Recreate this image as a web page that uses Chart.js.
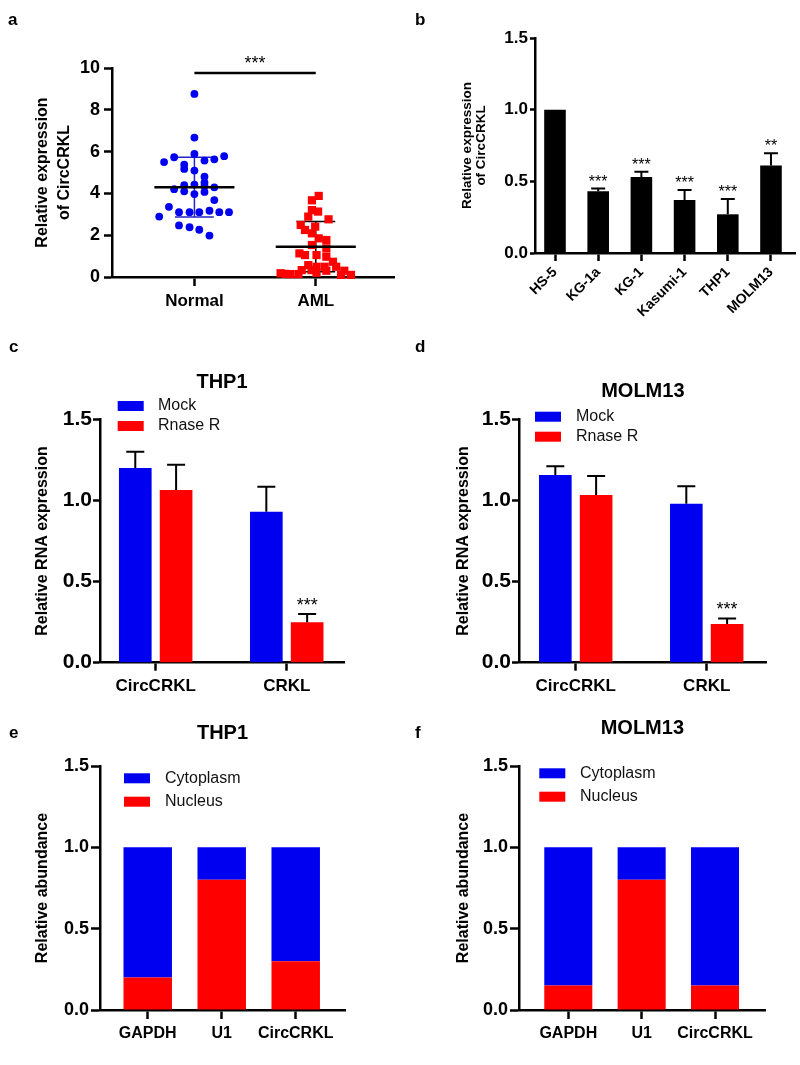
<!DOCTYPE html>
<html>
<head>
<meta charset="utf-8">
<title>CircCRKL figure</title>
<script src="https://cdn.jsdelivr.net/npm/chart.js@4.4.1/dist/chart.umd.min.js"></script>
<style>
  body { margin: 0; background: #fff; }
  #page { position: relative; width: 800px; height: 1065px; overflow: hidden; background: #fff; }
  #page canvas { position: absolute; }
  .tag { position: absolute; font: bold 17px/17px "Liberation Sans", Arial, sans-serif; color: #000; }
</style>
</head>
<body>
<div id="page">
  <canvas id="chartA" width="400" height="330" style="left:0;top:0"></canvas>
  <canvas id="chartB" width="400" height="330" style="left:400px;top:0"></canvas>
  <canvas id="chartC" width="400" height="370" style="left:0;top:330px"></canvas>
  <canvas id="chartD" width="400" height="370" style="left:400px;top:330px"></canvas>
  <canvas id="chartE" width="400" height="365" style="left:0;top:700px"></canvas>
  <canvas id="chartF" width="400" height="365" style="left:400px;top:700px"></canvas>
  <div class="tag" style="left:8px;top:11px">a</div>
  <div class="tag" style="left:415px;top:11px">b</div>
  <div class="tag" style="left:9px;top:338px">c</div>
  <div class="tag" style="left:415px;top:338px">d</div>
  <div class="tag" style="left:9px;top:724px">e</div>
  <div class="tag" style="left:415px;top:724px">f</div>
</div>
<script>
const FONT = '"Liberation Sans", Arial, sans-serif';
const BLUE = '#0000f0';
const RED = '#ff0000';

// a: circCRKL in Normal vs AML samples (x spread = jitter)
const groups = ['Normal', 'AML'];
const normalSpread = [0, 0, -0.25, -0.167, 0, 0.083, 0.164, 0.245, -0.084, -0.084, 0, 0.083, 0.083,
  -0.084, 0, 0.083, -0.167, 0.164, -0.084, 0, 0.083, 0.164, -0.21, -0.29, -0.127, -0.04, 0.04,
  0.124, 0.205, 0.285, -0.127, -0.04, 0.04, 0.124];
const normalValues = [8.76, 6.67, 5.5, 5.73, 5.89, 5.57, 5.63, 5.78, 5.37, 5.17, 5.09, 4.8, 4.52,
  4.39, 4.42, 4.36, 4.2, 4.29, 4.1, 3.97, 4.07, 3.68, 3.36, 2.89, 3.1, 3.1, 3.1,
  3.17, 3.1, 3.1, 2.47, 2.38, 2.26, 1.98];
const amlSpread = [0.024, -0.032, -0.032, 0.019, -0.062, 0.105, -0.124, -0.005, -0.089, -0.032,
  0.024, 0.087, -0.032, 0.087, -0.135, -0.089, 0.006, 0.087, 0.141, -0.062, 0.006, 0.073, 0.168,
  -0.116, -0.035, 0.087, 0.235, -0.29, -0.21, -0.143, 0.29, 0.208, 0.006, -0.25];
const amlValues = [3.88, 3.67, 3.2, 3.13, 2.89, 2.76, 2.49, 2.41, 2.25, 2.09,
  1.85, 1.77, 1.53, 1.37, 1.13, 1.05, 1.05, 0.97, 0.73, 0.57, 0.49, 0.49, 0.49,
  0.33, 0.33, 0.3, 0.3, 0.18, 0.14, 0.14, 0.1, 0.1, 0.2, 0.15];
const groupMean = [4.3, 1.45];
const groupSD = [1.43, 1.2];
const sigLevel = 9.76;

// b: cell lines
const cellLines = ['HS-5', 'KG-1a', 'KG-1', 'Kasumi-1', 'THP1', 'MOLM13'];
const cellExpr = [1.0, 0.43, 0.53, 0.37, 0.27, 0.61];
const cellErr = [0, 0.02, 0.037, 0.07, 0.107, 0.086];
const cellStars = ['', '***', '***', '***', '***', '**'];

// c, d: RNase R resistance
const rnaTargets = ['CircCRKL', 'CRKL'];
const thp1Mock = [1.2, 0.93];
const thp1MockErr = [0.1, 0.155];
const thp1Rnase = [1.065, 0.25];
const thp1RnaseErr = [0.155, 0.05];
const molmMock = [1.157, 0.98];
const molmMockErr = [0.053, 0.108];
const molmRnase = [1.034, 0.238];
const molmRnaseErr = [0.116, 0.035];
const rnaseStars = ['', '***'];

// e, f: nuclear / cytoplasmic fractions
const fracGenes = ['GAPDH', 'U1', 'CircCRKL'];
const thp1Nucleus = [0.2, 0.8, 0.3];
const thp1Cytoplasm = [0.8, 0.2, 0.7];
const molmNucleus = [0.15, 0.8, 0.15];
const molmCytoplasm = [0.85, 0.2, 0.85];

// ---------- shared pieces ----------
function axisBase(size, tickLen, pad) {
  return {
    border: { display: true, color: '#000', width: 2.5 },
    grid: { display: true, drawOnChartArea: false, drawTicks: true, tickLength: tickLen,
            tickWidth: 2.5, tickColor: '#000', offset: false },
    ticks: { color: '#000', padding: pad, font: { family: FONT, size: size, weight: 'bold' } }
  };
}

function yAxis(area, max, step, size, tickLen, pad, digits, title) {
  const s = axisBase(size, tickLen, pad);
  s.min = 0;
  s.max = max;
  s.ticks.stepSize = step;
  s.ticks.callback = v => v.toFixed(digits);
  const lh = title.lineHeight;
  s.title = {
    display: true, text: title.text, color: '#000',
    font: { family: FONT, size: title.size, weight: 'bold', lineHeight: lh + 'px' },
    padding: { top: title.x - lh / 2, bottom: 0 }
  };
  s.afterFit = sc => { sc.width = area.l; sc.paddingTop = 0; sc.paddingBottom = 0; };
  return s;
}

function xAxis(H, area, cats, min, max, size, tickLen, pad, rot) {
  const s = axisBase(size, tickLen, pad);
  s.type = 'linear';
  s.min = min;
  s.max = max;
  s.offset = false;
  s.afterBuildTicks = sc => { sc.ticks = cats.map((c, i) => ({ value: i + 1 })); };
  s.ticks.callback = v => cats[Math.round(v) - 1];
  s.ticks.autoSkip = false;
  s.ticks.minRotation = rot;
  s.ticks.maxRotation = rot;
  s.afterFit = sc => { sc.height = H - area.b; sc.paddingLeft = 0; sc.paddingRight = 0; };
  return s;
}

function chartTitle(text, centerY, top) {
  const lh = 24;
  return {
    display: true, text: text, color: '#000', fullSize: false,
    font: { family: FONT, size: 20, weight: 'bold', lineHeight: lh + 'px' },
    padding: { top: centerY - lh / 2, bottom: top - centerY - lh / 2 }
  };
}

const errorBars = {
  id: 'errorBars',
  afterDatasetsDraw(chart, args, o) {
    const ctx = chart.ctx, ys = chart.scales.y;
    ctx.save();
    ctx.strokeStyle = '#000';
    ctx.fillStyle = '#000';
    ctx.lineWidth = o.width;
    ctx.font = o.starSize + 'px ' + FONT;
    ctx.textAlign = 'center';
    chart.data.datasets.forEach((ds, i) => {
      if (!ds.errors) return;
      chart.getDatasetMeta(i).data.forEach((bar, j) => {
        const top = ys.getPixelForValue(ds.data[j] + ds.errors[j]);
        if (ds.errors[j] > 0) {
          ctx.beginPath();
          ctx.moveTo(bar.x, bar.y);
          ctx.lineTo(bar.x, top);
          ctx.moveTo(bar.x - o.cap, top);
          ctx.lineTo(bar.x + o.cap, top);
          ctx.stroke();
        }
        if (ds.stars && ds.stars[j]) ctx.fillText(ds.stars[j], bar.x, top - o.starGap);
      });
    });
    ctx.restore();
  }
};

const boxLegend = {
  id: 'boxLegend',
  afterDraw(chart, args, o) {
    const ctx = chart.ctx, a = chart.chartArea;
    ctx.save();
    ctx.font = o.size + 'px ' + FONT;
    ctx.textBaseline = 'middle';
    ctx.textAlign = 'left';
    o.order.forEach((di, k) => {
      const ds = chart.data.datasets[di];
      const y = a.top + o.dy + k * o.step;
      ctx.fillStyle = ds.backgroundColor;
      ctx.fillRect(a.left + o.dx, y - 5, 26, 10);
      ctx.fillStyle = '#111';
      ctx.fillText(ds.label, a.left + o.dx + o.gap, y);
    });
    ctx.restore();
  }
};

const sigMark = {
  id: 'sigMark',
  afterDatasetsDraw(chart, args, o) {
    const { ctx, scales: { x, y } } = chart;
    ctx.save();
    ctx.fillStyle = '#000';
    ctx.font = '18px ' + FONT;
    ctx.textAlign = 'center';
    ctx.fillText('***', x.getPixelForValue(1.5), y.getPixelForValue(sigLevel) - 4);
    ctx.restore();
  }
};

const common = {
  responsive: false,
  animation: false,
  devicePixelRatio: 1,
  events: []
};

// ---------- a ----------
function meanLine(g) {
  const x = g + 1;
  return [{ x: x - 0.33, y: groupMean[g] }, { x: x + 0.33, y: groupMean[g] }];
}
function sdBar(g) {
  const x = g + 1, lo = groupMean[g] - groupSD[g], hi = groupMean[g] + groupSD[g], w = 0.16;
  return [{ x: x - w, y: lo }, { x: x + w, y: lo }, { x: x, y: null }, { x: x, y: lo }, { x: x, y: hi },
          { x: x, y: null }, { x: x - w, y: hi }, { x: x + w, y: hi }];
}
const lineSet = (data, color, width) => ({
  data: data, showLine: true, borderColor: color, borderWidth: width, pointRadius: 0, spanGaps: false
});

const areaA = { l: 112, t: 68, r: 399, b: 277 };
new Chart(document.getElementById('chartA'), {
  type: 'scatter',
  data: {
    datasets: [
      lineSet(meanLine(0), '#000', 2.5),
      lineSet(meanLine(1), '#000', 2.5),
      lineSet([{ x: 1, y: sigLevel }, { x: 2, y: sigLevel }], '#000', 2.5),
      { data: normalValues.map((v, i) => ({ x: 1 + normalSpread[i], y: v })), pointStyle: 'circle',
        pointRadius: 3.9, pointBackgroundColor: BLUE, backgroundColor: BLUE, pointBorderWidth: 0, clip: false },
      { data: amlValues.map((v, i) => ({ x: 2 + amlSpread[i], y: v })), pointStyle: 'rect',
        pointRadius: 5.8, pointBackgroundColor: RED, backgroundColor: RED, pointBorderWidth: 0, clip: false },
      lineSet(sdBar(0), '#2424c8', 1.5),
      lineSet(sdBar(1), '#000', 1.5)
    ]
  },
  options: Object.assign({}, common, {
    layout: { padding: { left: 0, top: areaA.t, right: 400 - areaA.r, bottom: 0 } },
    plugins: { legend: { display: false }, tooltip: { enabled: false } },
    scales: {
      x: xAxis(330, areaA, groups, 0.321, 2.646, 17, 9, 5, 0),
      y: yAxis(areaA, 10, 2, 18, 8, 4, 0,
        { text: ['Relative expression', 'of CircCRKL'], size: 16, lineHeight: 22, x: 43 })
    }
  }),
  plugins: [sigMark]
});

// ---------- b ----------
const areaB = { l: 135, t: 38, r: 395, b: 253 };
new Chart(document.getElementById('chartB'), {
  type: 'bar',
  data: {
    labels: cellLines.map((c, i) => i + 1),
    datasets: [{ data: cellExpr, errors: cellErr, stars: cellStars, backgroundColor: '#000',
                 categoryPercentage: 1, barPercentage: 0.5 }]
  },
  options: Object.assign({}, common, {
    layout: { padding: { left: 0, top: areaB.t, right: 400 - areaB.r, bottom: 0 } },
    plugins: { legend: { display: false }, tooltip: { enabled: false },
               errorBars: { width: 2, cap: 7, starSize: 16, starGap: 2 } },
    scales: {
      x: xAxis(330, areaB, cellLines, 0.537, 6.556, 14, 8, 3, 45),
      y: yAxis(areaB, 1.5, 0.5, 17, 5, 2, 1,
        { text: ['Relative expression', 'of CircCRKL'], size: 13.5, lineHeight: 14.5, x: 67 })
    }
  }),
  plugins: [errorBars]
});

// ---------- c, d ----------
function rnaseChart(id, title, area, xmin, xmax, mock, mockErr, rnase, rnaseErr, legend) {
  new Chart(document.getElementById(id), {
    type: 'bar',
    data: {
      labels: rnaTargets.map((c, i) => i + 1),
      datasets: [
        { label: 'Mock', data: mock, errors: mockErr, backgroundColor: BLUE,
          categoryPercentage: 0.623, barPercentage: 0.8 },
        { label: 'Rnase R', data: rnase, errors: rnaseErr, stars: rnaseStars, backgroundColor: RED,
          categoryPercentage: 0.623, barPercentage: 0.8 }
      ]
    },
    options: Object.assign({}, common, {
      layout: { padding: { left: 0, top: 0, right: 400 - area.r, bottom: 0 } },
      plugins: {
        legend: { display: false }, tooltip: { enabled: false },
        title: chartTitle(title, area.titleY, area.t),
        errorBars: { width: 2, cap: 9, starSize: 18, starGap: 3 },
        boxLegend: legend
      },
      scales: {
        x: xAxis(370, area, rnaTargets, xmin, xmax, 17, 8, 5, 0),
        y: yAxis(area, 1.5, 0.5, 21, 7, 1, 1,
          { text: 'Relative RNA expression', size: 16, lineHeight: 19, x: area.titleX })
      }
    }),
    plugins: [errorBars, boxLegend]
  });
}
rnaseChart('chartC', 'THP1', { l: 100, t: 89.3, r: 344, b: 332.7, titleY: 52.7, titleX: 43 },
  0.575, 2.437, thp1Mock, thp1MockErr, thp1Rnase, thp1RnaseErr,
  { order: [0, 1], dx: 17.7, dy: -13.3, step: 20, gap: 40.3, size: 16 });
rnaseChart('chartD', 'MOLM13', { l: 119, t: 89.3, r: 366.7, b: 332.7, titleY: 61, titleX: 63.3 },
  0.567, 2.458, molmMock, molmMockErr, molmRnase, molmRnaseErr,
  { order: [0, 1], dx: 16, dy: -2.6, step: 20, gap: 41, size: 16 });

// ---------- e, f ----------
function fracChart(id, title, area, xmin, xmax, nucleus, cytoplasm, legend) {
  new Chart(document.getElementById(id), {
    type: 'bar',
    data: {
      labels: fracGenes.map((c, i) => i + 1),
      datasets: [
        { label: 'Nucleus', data: nucleus, backgroundColor: RED, categoryPercentage: 0.655, barPercentage: 1 },
        { label: 'Cytoplasm', data: cytoplasm, backgroundColor: BLUE, categoryPercentage: 0.655, barPercentage: 1 }
      ]
    },
    options: Object.assign({}, common, {
      layout: { padding: { left: 0, top: 0, right: 400 - area.r, bottom: 0 } },
      plugins: {
        legend: { display: false }, tooltip: { enabled: false },
        title: chartTitle(title, area.titleY, area.t),
        boxLegend: legend
      },
      scales: {
        x: Object.assign(xAxis(365, area, fracGenes, xmin, xmax, 16, 9, 5, 0), { stacked: true }),
        y: Object.assign(yAxis(area, 1.5, 0.5, 18, 9, 2, 1,
          { text: 'Relative abundance', size: 16, lineHeight: 19, x: area.titleX }), { stacked: true })
      }
    }),
    plugins: [boxLegend]
  });
}
fracChart('chartE', 'THP1', { l: 100, t: 66, r: 345, b: 310, titleY: 33.3, titleX: 43 },
  0.355, 3.666, thp1Nucleus, thp1Cytoplasm,
  { order: [1, 0], dx: 24, dy: 12.3, step: 23.4, gap: 41, size: 16 });
fracChart('chartF', 'MOLM13', { l: 119, t: 66, r: 365.7, b: 310, titleY: 28.3, titleX: 63.3 },
  0.328, 3.691, molmNucleus, molmCytoplasm,
  { order: [1, 0], dx: 20.3, dy: 7.3, step: 23.4, gap: 40.7, size: 16 });
</script>
</body>
</html>
